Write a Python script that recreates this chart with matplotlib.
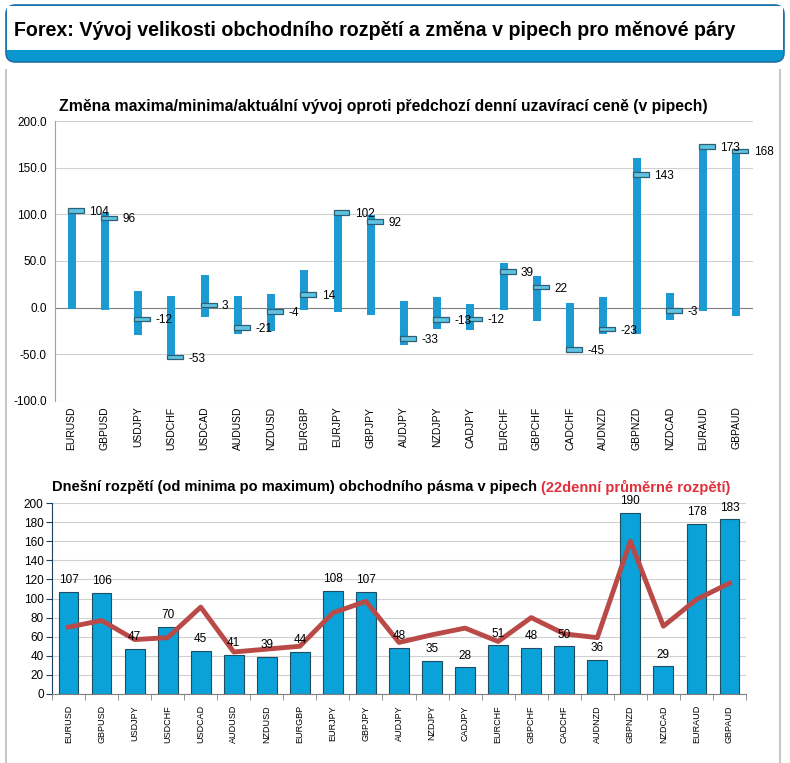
import numpy as np
import matplotlib
matplotlib.use('Agg')
import matplotlib.pyplot as plt
from matplotlib.patches import FancyBboxPatch, Rectangle

plt.rcParams['font.family'] = ['Liberation Sans', 'DejaVu Sans']

# data
pary = ['EURUSD', 'GBPUSD', 'USDJPY', 'USDCHF', 'USDCAD', 'AUDUSD', 'NZDUSD', 'EURGBP',
        'EURJPY', 'GBPJPY', 'AUDJPY', 'NZDJPY', 'CADJPY', 'EURCHF', 'GBPCHF', 'CADCHF',
        'AUDNZD', 'GBPNZD', 'NZDCAD', 'EURAUD', 'GBPAUD']
maxima = [104, 101, 18, 12, 35, 12, 15, 40, 103, 99, 7, 11, 4, 48, 34, 5, 11, 160, 16, 174, 170]
minima = [-1, -3, -29, -56, -10, -28, -25, -3, -5, -8, -40, -23, -24, -3, -14, -47, -28, -28, -13, -4, -9]
aktualni = [104, 96, -12, -53, 3, -21, -4, 14, 102, 92, -33, -13, -12, 39, 22, -45, -23, 143, -3, 173, 168]

rozpeti = [107, 106, 47, 70, 45, 41, 39, 44, 108, 107, 48, 35, 28, 51, 48, 50, 36, 190, 29, 178, 183]
prumer22 = [70, 77, 57, 59, 91, 44, 47, 50, 85, 97, 54, 62, 69, 55, 80, 63, 59, 160, 71, 99, 116]

W, H = 790, 763
fig = plt.figure(figsize=(W / 100, H / 100), dpi=100)
fig.patch.set_facecolor('white')

def box(x0, y0, x1, y1):
    # pixel box -> figure coords
    return [x0 / W, 1 - y1 / H, (x1 - x0) / W, (y1 - y0) / H]

# horni ramecek s nadpisem
fig.patches.append(FancyBboxPatch((6 / W, 1 - 62 / H), 778 / W, 57 / H,
                                  boxstyle='round,pad=0,rounding_size=0.012',
                                  transform=fig.transFigure, facecolor='#0A96CF',
                                  edgecolor='#1E6FA8', linewidth=1.2))
fig.patches.append(Rectangle((7 / W, 1 - 50 / H), 776 / W, 44 / H,
                             transform=fig.transFigure, facecolor='white', edgecolor='none'))
fig.text(14 / W, 1 - 30 / H, 'Forex: Vývoj velikosti obchodního rozpětí a změna v pipech pro měnové páry',
         fontsize=14.1, fontweight='bold', va='center', ha='left', color='black')

# sedy ramecek panelu
fig.add_artist(plt.Line2D([6 / W, 6 / W], [0, 1 - 70 / H], transform=fig.transFigure, color='#C8C8C8', lw=1.5))
fig.add_artist(plt.Line2D([780 / W, 780 / W], [0, 1 - 70 / H], transform=fig.transFigure, color='#C8C8C8', lw=1.5))

x = np.arange(len(pary))

# ---- horni graf ----
ax1 = fig.add_axes(box(55, 121, 753, 401))
ax1.set_xlim(-0.5, len(pary) - 0.5)
ax1.set_ylim(-100, 200)
ax1.set_yticks(np.arange(-100, 201, 50))
ax1.set_yticklabels(['%.1f' % v for v in np.arange(-100, 201, 50)], fontsize=8.5)
ax1.grid(axis='y', color='#D0D0D0', lw=0.8)
ax1.set_axisbelow(True)
ax1.axhline(0, color='#808080', lw=0.8, zorder=1)
for s in ['top', 'right', 'bottom']:
    ax1.spines[s].set_visible(False)
ax1.spines['left'].set_color('#A0A0A0')
ax1.tick_params(axis='y', length=0, pad=6)
ax1.tick_params(axis='x', length=0, pad=4)
ax1.set_xticks(x)
ax1.set_xticklabels(pary, rotation=90, fontsize=7.5)

ax1.bar(x, np.array(maxima) - np.array(minima), bottom=minima, width=0.24, color='#1B9BD1', zorder=2)
ax1.bar(x + 0.12, 5.0, bottom=np.array(aktualni) - 2.5, width=0.48, color='#5FC3E4',
        edgecolor='#2F5F73', linewidth=0.9, zorder=3)
for xi, v in zip(x, aktualni):
    ax1.text(xi + 0.52, v - 1.5, '%d' % v, fontsize=8.5, va='center', ha='left', zorder=4)

fig.text(59 / W, 1 - 107 / H,
         'Změna maxima/minima/aktuální vývoj oproti předchozí denní uzavírací ceně (v pipech)',
         fontsize=11.3, fontweight='bold', va='center', ha='left')

# ---- dolni graf ----
ax2 = fig.add_axes(box(52, 503, 746, 694))
ax2.set_xlim(-0.5, len(pary) - 0.5)
ax2.set_ylim(0, 200)
ax2.set_yticks(np.arange(0, 201, 20))
ax2.tick_params(axis='y', labelsize=8.5, length=4, color='#1F3F5F', pad=2)
ax2.grid(axis='y', color='#D0D0D0', lw=0.8)
ax2.set_axisbelow(True)
for s in ['top', 'right']:
    ax2.spines[s].set_visible(False)
ax2.spines['left'].set_color('#1F3F5F')
ax2.spines['bottom'].set_color('#808080')
ax2.set_xticks(x)
ax2.set_xticklabels(pary, rotation=90, fontsize=6.5)
ax2.set_xticks(np.arange(-0.5, len(pary), 1), minor=True)
ax2.tick_params(axis='x', which='major', length=0, pad=8)
ax2.tick_params(axis='x', which='minor', length=4, color='#808080')

ax2.bar(x, rozpeti, width=0.6, color='#0AA2D8', edgecolor='#1F4E63', linewidth=0.8, zorder=2)
ax2.plot(x, prumer22, color='#B94A48', lw=3.5, zorder=3)
for xi, v in zip(x, rozpeti):
    ax2.text(xi, v + 6, '%d' % v, fontsize=8.5, ha='center', va='bottom', zorder=4)

t1 = fig.text(52 / W, 1 - 487 / H,
              'Dnešní rozpětí (od minima po maximum) obchodního pásma v pipech ',
              fontsize=10.5, fontweight='bold', va='center', ha='left')
fig.canvas.draw()
bb = t1.get_window_extent()
fig.text(bb.x1 / W, 1 - 487 / H, '(22denní průměrné rozpětí)',
         fontsize=10.5, fontweight='bold', va='center', ha='left', color='#E0303A')

fig.savefig('out.png', dpi=100)
